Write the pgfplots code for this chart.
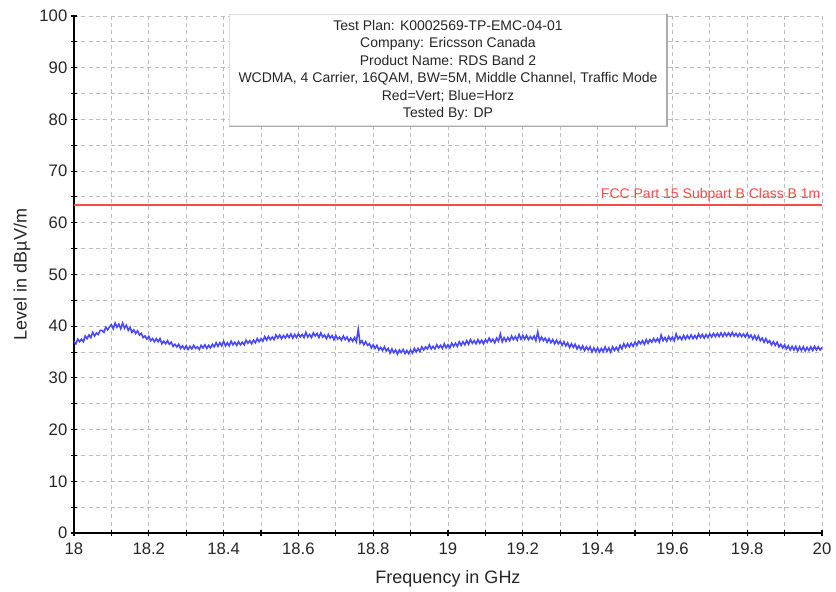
\documentclass[border=0pt]{standalone}
\usepackage{pgfplots}
\pgfplotsset{compat=1.18}
\usepackage{fontspec}
\setmainfont{Liberation Sans}
\definecolor{curveblue}{RGB}{72,72,255}
\definecolor{limred}{RGB}{255,72,72}
\definecolor{gridgray}{RGB}{190,190,190}
\begin{document}
\begin{tikzpicture}
\path[use as bounding box] (-55.5pt,-44.25pt) rectangle (571.5pt,399.75pt);
\begin{axis}[
  at={(0,0)}, anchor=south west,
  scale only axis, width=561pt, height=387.75pt,
  xmin=18, xmax=20, ymin=0, ymax=100,
  axis lines=left,
  axis line style={-, black, line width=1pt},
  xtick={18,18.2,...,20.01},
  minor xtick={18.1,18.3,...,19.95},
  ytick={0,10,...,100},
  minor ytick={5,15,...,95},
  xticklabels={18,18.2,18.4,18.6,18.8,19,19.2,19.4,19.6,19.8,20},
  tick align=center,
  major tick length=5pt, minor tick length=5pt,
  tick style={black, line width=0.8pt},
  grid=both,
  major grid style={gridgray, dash pattern=on 3pt off 2.5pt, line width=0.7pt},
  minor grid style={gridgray, dash pattern=on 3pt off 2.5pt, line width=0.7pt},
  /pgf/number format/assume math mode=true,
  ticklabel style={font=\fontsize{12.5}{14}\selectfont, text=black!85},
  xticklabel style={yshift=-1pt},
  yticklabel style={xshift=1pt},
  xlabel={Frequency in GHz},
  ylabel={Level in dBµV/m},
  label style={font=\fontsize{13.5}{16}\selectfont, text=black!85},
  xlabel style={at={([yshift=-34.5pt]axis description cs:0.5,0)}, anchor=center},
  ylabel style={at={([xshift=-39pt]axis description cs:0,0.5)}, anchor=center},
  clip=false,
]
\addplot[curveblue, line width=1.2pt] coordinates {
(18.000,37.1)(18.005,36.6)(18.010,37.5)(18.015,37.0)(18.020,37.5)(18.025,37.0)(18.030,38.1)(18.035,37.6)(18.040,38.3)(18.045,37.8)
(18.050,38.8)(18.055,38.1)(18.060,38.7)(18.065,38.4)(18.070,39.2)(18.075,39.2)(18.080,38.8)(18.085,39.8)(18.090,39.3)(18.095,39.9)
(18.100,40.3)(18.105,39.5)(18.110,40.6)(18.115,39.8)(18.120,40.4)(18.125,39.5)(18.130,40.6)(18.135,39.6)(18.140,40.2)(18.145,39.2)
(18.150,39.8)(18.155,38.8)(18.160,39.3)(18.165,38.6)(18.170,39.1)(18.175,38.3)(18.180,38.6)(18.185,37.8)(18.190,38.1)(18.195,37.5)
(18.200,38.0)(18.205,37.2)(18.210,37.6)(18.215,37.0)(18.220,37.6)(18.225,37.0)(18.230,37.6)(18.235,36.6)(18.240,37.1)(18.245,36.6)
(18.250,37.2)(18.255,36.5)(18.260,36.9)(18.265,36.1)(18.270,36.5)(18.275,36.0)(18.280,36.5)(18.285,35.7)(18.290,36.2)(18.295,35.6)
(18.300,36.2)(18.305,35.5)(18.310,36.1)(18.315,35.6)(18.320,36.3)(18.325,35.7)(18.330,36.0)(18.335,35.5)(18.340,36.3)(18.345,35.8)
(18.350,36.4)(18.355,35.7)(18.360,36.3)(18.365,35.8)(18.370,36.5)(18.375,36.0)(18.380,36.8)(18.385,36.1)(18.390,36.8)(18.395,36.2)
(18.400,37.1)(18.405,36.2)(18.410,36.8)(18.415,36.2)(18.420,37.1)(18.425,36.4)(18.430,36.9)(18.435,36.3)(18.440,37.0)(18.445,36.4)
(18.450,36.9)(18.455,36.4)(18.460,37.3)(18.465,36.7)(18.470,37.2)(18.475,36.6)(18.480,37.3)(18.485,36.8)(18.490,37.6)(18.495,37.0)
(18.500,37.6)(18.505,37.1)(18.510,38.0)(18.515,37.3)(18.520,38.0)(18.525,37.4)(18.530,37.9)(18.535,37.4)(18.540,38.3)(18.545,37.7)
(18.550,38.3)(18.555,37.6)(18.560,38.2)(18.565,37.7)(18.570,38.4)(18.575,37.8)(18.580,38.5)(18.585,37.7)(18.590,38.4)(18.595,37.8)
(18.600,38.5)(18.605,37.9)(18.610,38.4)(18.615,37.8)(18.620,38.8)(18.625,37.9)(18.630,38.4)(18.635,37.8)(18.640,38.7)(18.645,38.1)
(18.650,38.6)(18.655,37.8)(18.660,38.7)(18.665,37.9)(18.670,38.3)(18.675,37.6)(18.680,38.4)(18.685,37.7)(18.690,38.2)(18.695,37.4)
(18.700,38.2)(18.705,37.5)(18.710,37.9)(18.715,37.3)(18.720,38.1)(18.725,37.4)(18.730,37.9)(18.735,37.1)(18.740,37.7)(18.745,37.1)
(18.750,37.8)(18.755,37.0)(18.760,39.4)(18.765,36.7)(18.770,37.2)(18.775,36.4)(18.780,37.0)(18.785,36.3)(18.790,36.6)(18.795,35.8)
(18.800,36.4)(18.805,35.7)(18.810,36.3)(18.815,35.4)(18.820,35.9)(18.825,35.3)(18.830,36.0)(18.835,35.2)(18.840,35.7)(18.845,34.8)
(18.850,35.6)(18.855,34.9)(18.860,35.4)(18.865,34.6)(18.870,35.4)(18.875,34.9)(18.880,35.5)(18.885,34.7)(18.890,35.3)(18.895,34.7)
(18.900,35.4)(18.905,34.8)(18.910,35.7)(18.915,35.0)(18.920,35.7)(18.925,35.1)(18.930,36.0)(18.935,35.4)(18.940,36.0)(18.945,35.6)
(18.950,36.4)(18.955,35.6)(18.960,36.1)(18.965,35.6)(18.970,36.4)(18.975,35.8)(18.980,36.3)(18.985,35.7)(18.990,36.6)(18.995,35.8)
(19.000,36.4)(19.005,35.8)(19.010,36.7)(19.015,36.1)(19.020,36.7)(19.025,36.1)(19.030,37.0)(19.035,36.3)(19.040,37.0)(19.045,36.4)
(19.050,37.2)(19.055,36.5)(19.060,37.4)(19.065,36.7)(19.070,37.2)(19.075,36.6)(19.080,37.4)(19.085,36.7)(19.090,37.3)(19.095,36.6)
(19.100,37.4)(19.105,36.9)(19.110,37.7)(19.115,37.0)(19.120,37.5)(19.125,36.8)(19.130,37.7)(19.135,37.1)(19.140,38.5)(19.145,37.0)
(19.150,37.8)(19.155,37.1)(19.160,37.8)(19.165,37.2)(19.170,38.1)(19.175,37.4)(19.180,38.0)(19.185,37.3)(19.190,38.4)(19.195,37.5)
(19.200,38.2)(19.205,37.5)(19.210,38.2)(19.215,37.4)(19.220,38.0)(19.225,37.5)(19.230,38.1)(19.235,37.2)(19.240,38.9)(19.245,37.2)
(19.250,37.9)(19.255,37.2)(19.260,37.7)(19.265,36.9)(19.270,37.6)(19.275,36.8)(19.280,37.4)(19.285,36.6)(19.290,37.3)(19.295,36.6)
(19.300,37.1)(19.305,36.3)(19.310,37.0)(19.315,36.2)(19.320,36.8)(19.325,35.9)(19.330,36.6)(19.335,35.9)(19.340,36.5)(19.345,35.6)
(19.350,36.2)(19.355,35.5)(19.360,36.2)(19.365,35.3)(19.370,36.0)(19.375,35.4)(19.380,36.0)(19.385,35.0)(19.390,35.8)(19.395,35.1)
(19.400,35.8)(19.405,35.0)(19.410,35.7)(19.415,35.1)(19.420,36.0)(19.425,35.1)(19.430,35.8)(19.435,35.0)(19.440,36.0)(19.445,35.3)
(19.450,35.9)(19.455,35.3)(19.460,36.3)(19.465,35.6)(19.470,36.6)(19.475,35.9)(19.480,36.6)(19.485,36.0)(19.490,36.7)(19.495,36.1)
(19.500,36.9)(19.505,36.3)(19.510,37.1)(19.515,36.6)(19.520,37.2)(19.525,36.5)(19.530,37.4)(19.535,36.7)(19.540,37.4)(19.545,36.9)
(19.550,37.6)(19.555,37.0)(19.560,37.6)(19.565,36.9)(19.570,38.3)(19.575,37.2)(19.580,37.8)(19.585,37.1)(19.590,38.0)(19.595,37.3)
(19.600,37.9)(19.605,37.2)(19.610,38.5)(19.615,37.5)(19.620,38.0)(19.625,37.4)(19.630,38.2)(19.635,37.5)(19.640,38.2)(19.645,37.6)
(19.650,38.3)(19.655,37.6)(19.660,38.2)(19.665,37.6)(19.670,38.5)(19.675,37.8)(19.680,38.4)(19.685,37.7)(19.690,38.4)(19.695,37.8)
(19.700,38.5)(19.705,37.9)(19.710,38.6)(19.715,38.0)(19.720,38.6)(19.725,38.0)(19.730,38.7)(19.735,38.0)(19.740,38.7)(19.745,38.1)
(19.750,38.7)(19.755,38.1)(19.760,38.8)(19.765,38.1)(19.770,38.6)(19.775,38.0)(19.780,38.6)(19.785,38.0)(19.790,38.5)(19.795,37.9)
(19.800,38.6)(19.805,37.8)(19.810,38.3)(19.815,37.5)(19.820,38.2)(19.825,37.4)(19.830,38.1)(19.835,37.2)(19.840,37.7)(19.845,36.9)
(19.850,37.6)(19.855,36.8)(19.860,37.2)(19.865,36.4)(19.870,37.0)(19.875,36.3)(19.880,36.9)(19.885,36.0)(19.890,36.5)(19.895,35.8)
(19.900,36.4)(19.905,35.6)(19.910,36.2)(19.915,35.4)(19.920,36.1)(19.925,35.4)(19.930,36.1)(19.935,35.2)(19.940,36.0)(19.945,35.3)
(19.950,36.0)(19.955,35.2)(19.960,35.9)(19.965,35.3)(19.970,36.0)(19.975,35.3)(19.980,36.1)(19.985,35.4)(19.990,36.0)(19.995,35.4)
(20.000,35.9)
};
\addplot[limred, line width=1.6pt] coordinates {(18,63.5) (20,63.5)};
\node[anchor=south east, inner sep=1pt, text=limred, font=\fontsize{10.5}{12}\selectfont] at (axis cs:20,63.9) {FCC Part 15 Subpart B Class B 1m};
\node[anchor=north, fill=white, draw=gray!25, line width=0.8pt, align=center,
      minimum width=328pt, minimum height=83.5pt, inner sep=2pt,
      font=\fontsize{10.5}{13.1}\selectfont, text=black!85] (tb)
  at ([yshift=1.5pt]axis description cs:0.5,1)
  {Test Plan: K0002569-TP-EMC-04-01\\
   Company: Ericsson Canada\\
   Product Name: RDS Band 2\\
   WCDMA, 4 Carrier, 16QAM, BW=5M, Middle Channel, Traffic Mode\\
   Red=Vert; Blue=Horz\\
   Tested By: DP};
\draw[gray!65, line width=1.3pt] (tb.north east) -- (tb.south east) -- (tb.south west);
\end{axis}
\end{tikzpicture}
\end{document}
